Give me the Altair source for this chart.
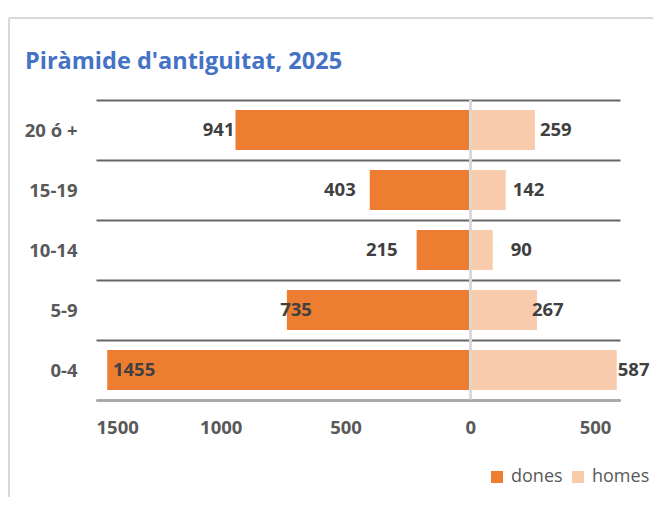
import altair as alt
import pandas as pd

# ---- data ----
categories = ["20 ó +", "15-19", "10-14", "5-9", "0-4"]
dones = [941, 403, 215, 735, 1455]
homes = [259, 142, 90, 267, 587]
series = ["dones", "homes"]
colors = ["#ED7D31", "#F8CBAD"]
x_ticks = [-1500, -1000, -500, 0, 500]
title_text = "Piràmide d'antiguitat, 2025"

# label nudges (pixels) to mimic the hand-placed Excel labels
dones_nudge = [-1, -14, -19, 25, 48]
homes_nudge = [5, 7, 18, -5, 1]

W, H = 524, 300
XMIN, XMAX = -1500, 600
upp = (XMAX - XMIN) / W  # data units per pixel

rows = []
for i, c in enumerate(categories):
    rows.append(dict(grup=c, sexe="dones", valor=dones[i], x=-dones[i],
                     lx=-dones[i] + dones_nudge[i] * upp))
    rows.append(dict(grup=c, sexe="homes", valor=homes[i], x=homes[i],
                     lx=homes[i] + homes_nudge[i] * upp))
df = pd.DataFrame(rows)

FONT = "Open Sans"
xscale = alt.Scale(domain=[XMIN, XMAX], nice=False, zero=False)
yscale = alt.Scale(domain=categories, paddingInner=0, paddingOuter=0)

y_enc = alt.Y("grup:N", sort=categories, scale=yscale,
              axis=alt.Axis(title=None, grid=True, tickBand="extent",
                            gridColor="#666666", gridWidth=2,
                            domain=False, ticks=False, tickSize=0,
                            labelPadding=19, labelFont=FONT, labelFontSize=18.5,
                            labelFontWeight="bold", labelColor="#595959"))

base = alt.Chart(df)

bars = base.mark_bar(size=40).encode(
    x=alt.X("x:Q", scale=xscale,
            axis=alt.Axis(values=x_ticks, labelExpr="abs(datum.value)",
                          title=None, grid=False, ticks=False, tickSize=0,
                          domainColor="#a6a6a6", domainWidth=2,
                          labelPadding=27, labelBaseline="middle",
                          labelFont=FONT, labelFontSize=18.5,
                          labelFontWeight="bold", labelColor="#595959",
                          zindex=1)),
    x2=alt.datum(0),
    y=y_enc,
    color=alt.Color("sexe:N", scale=alt.Scale(domain=series, range=colors),
                    legend=alt.Legend(title=None, orient="none",
                                      legendX=392, legendY=368,
                                      direction="horizontal",
                                      symbolType="square", symbolSize=144,
                                      symbolStrokeWidth=0,
                                      labelFont=FONT, labelFontSize=18,
                                      labelColor="#595959", labelOffset=5,
                                      columnPadding=6, padding=0)),
)

zero = base.mark_rule(color="#d9d9d9", strokeWidth=2).encode(x=alt.datum(0))

txt_style = dict(font=FONT, fontSize=18.5, fontWeight="bold", color="#404040",
                 baseline="middle")
lab_d = base.transform_filter("datum.sexe == 'dones'").mark_text(
    align="right", **txt_style).encode(
    x=alt.X("lx:Q", scale=xscale), y=alt.Y("grup:N", sort=categories, scale=yscale),
    text="valor:Q")
lab_h = base.transform_filter("datum.sexe == 'homes'").mark_text(
    align="left", **txt_style).encode(
    x=alt.X("lx:Q", scale=xscale), y=alt.Y("grup:N", sort=categories, scale=yscale),
    text="valor:Q")

one = pd.DataFrame({"t": [title_text]})
title = alt.Chart(one).mark_text(font=FONT, fontSize=23.5, fontWeight="bold",
                                 color="#4472C4", align="left",
                                 baseline="alphabetic").encode(
    x=alt.value(-71), y=alt.value(-31), text="t:N")

frame_top = alt.Chart(one).mark_rule(color="#d9d9d9", strokeWidth=2).encode(
    x=alt.value(-87), x2=alt.value(W + 120), y=alt.value(-82))
frame_left = alt.Chart(one).mark_rule(color="#d9d9d9", strokeWidth=2).encode(
    x=alt.value(-87), y=alt.value(-82), y2=alt.value(H + 200))

chart = alt.layer(frame_top, frame_left, title, bars, zero, lab_d, lab_h).properties(
    width=W, height=H,
    autosize="none",
    padding={"left": 88, "top": 92, "right": 33, "bottom": 97},
).configure_view(stroke=None)

chart.save("out.html", embed_options={"renderer": "svg", "actions": False})
